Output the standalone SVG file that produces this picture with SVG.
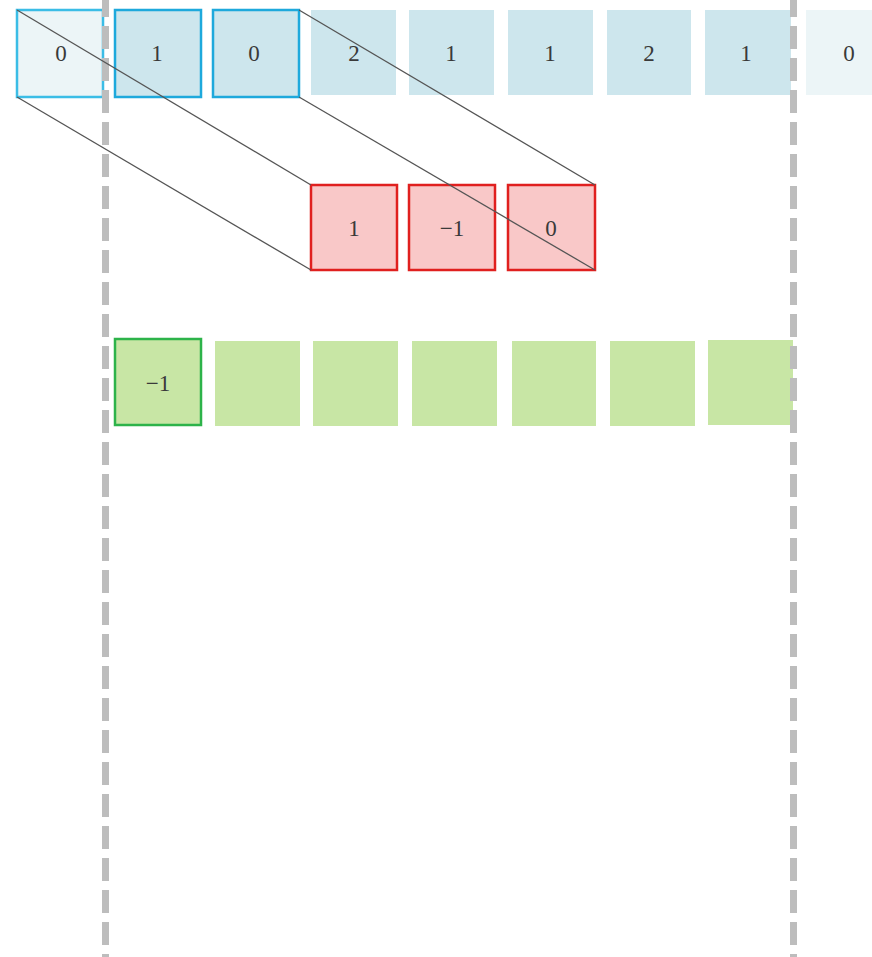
<svg xmlns="http://www.w3.org/2000/svg" width="872" height="957" viewBox="0 0 872 957">
<style>
.t{font-family:"Liberation Serif","Noto Serif",serif;font-size:23px;fill:#3a3a3a;text-anchor:middle;dominant-baseline:central}
.in{fill:#cde6ed}
.inS{fill:#cde6ed;stroke:#1ea9dc;stroke-width:2.5}
.pad{fill:#ecf5f7}
.padS{fill:#ecf5f7;stroke:#3bbde6;stroke-width:2.5}
.k{fill:#f9c8c8;stroke:#e0201f;stroke-width:2.5}
.o{fill:#c8e6a5}
.oS{fill:#c8e6a5;stroke:#2db34a;stroke-width:2.5}
.dash{stroke:#bdbdbd;stroke-width:7;stroke-dasharray:23 9;stroke-dashoffset:6;fill:none}
.ln{stroke:#555;stroke-width:1.3;fill:none}
</style>
<rect width="872" height="957" fill="#fff"/>
<g id="input">
<g id="in0"><rect class="padS" x="17" y="10" width="86" height="87"/><text class="t" x="61" y="53">0</text></g>
<g id="in1"><rect class="inS" x="115" y="10" width="86" height="87"/><text class="t" x="157" y="53">1</text></g>
<g id="in2"><rect class="inS" x="213" y="10" width="86" height="87"/><text class="t" x="254" y="53">0</text></g>
<g id="in3"><rect class="in" x="311" y="10" width="85" height="85"/><text class="t" x="354" y="53">2</text></g>
<g id="in4"><rect class="in" x="409" y="10" width="85" height="85"/><text class="t" x="451" y="53">1</text></g>
<g id="in5"><rect class="in" x="508" y="10" width="85" height="85"/><text class="t" x="550" y="53">1</text></g>
<g id="in6"><rect class="in" x="607" y="10" width="84" height="85"/><text class="t" x="649" y="53">2</text></g>
<g id="in7"><rect class="in" x="705" y="10" width="86" height="85"/><text class="t" x="746" y="53">1</text></g>
<g id="in8"><rect class="pad" x="806" y="10" width="86" height="85"/><text class="t" x="849" y="53">0</text></g>
</g>
<g id="kernel">
<g id="k0"><rect class="k" x="311" y="185" width="86" height="85"/><text class="t" x="354" y="228">1</text></g>
<g id="k1"><rect class="k" x="409" y="185" width="86" height="85"/><text class="t" x="452" y="228">−1</text></g>
<g id="k2"><rect class="k" x="508" y="185" width="87" height="85"/><text class="t" x="551" y="228">0</text></g>
</g>
<g id="output">
<g id="o0"><rect class="oS" x="115" y="339" width="86" height="86"/><text class="t" x="158" y="383">−1</text></g>
<g id="o1"><rect class="o" x="215" y="341" width="85" height="85"/></g>
<g id="o2"><rect class="o" x="313" y="341" width="85" height="85"/></g>
<g id="o3"><rect class="o" x="412" y="341" width="85" height="85"/></g>
<g id="o4"><rect class="o" x="512" y="341" width="84" height="85"/></g>
<g id="o5"><rect class="o" x="610" y="341" width="85" height="85"/></g>
<g id="o6"><rect class="o" x="708" y="340" width="85" height="85"/></g>
</g>
<g id="bounds">
<line class="dash" x1="105.5" y1="0" x2="105.5" y2="957"/>
<line class="dash" x1="793.5" y1="0" x2="793.5" y2="957"/>
</g>
<g id="connectors">
<line class="ln" x1="17" y1="10" x2="311" y2="185"/>
<line class="ln" x1="17" y1="97" x2="311" y2="270"/>
<line class="ln" x1="299" y1="10" x2="595" y2="185"/>
<line class="ln" x1="299" y1="97" x2="595" y2="270"/>
</g>
</svg>
